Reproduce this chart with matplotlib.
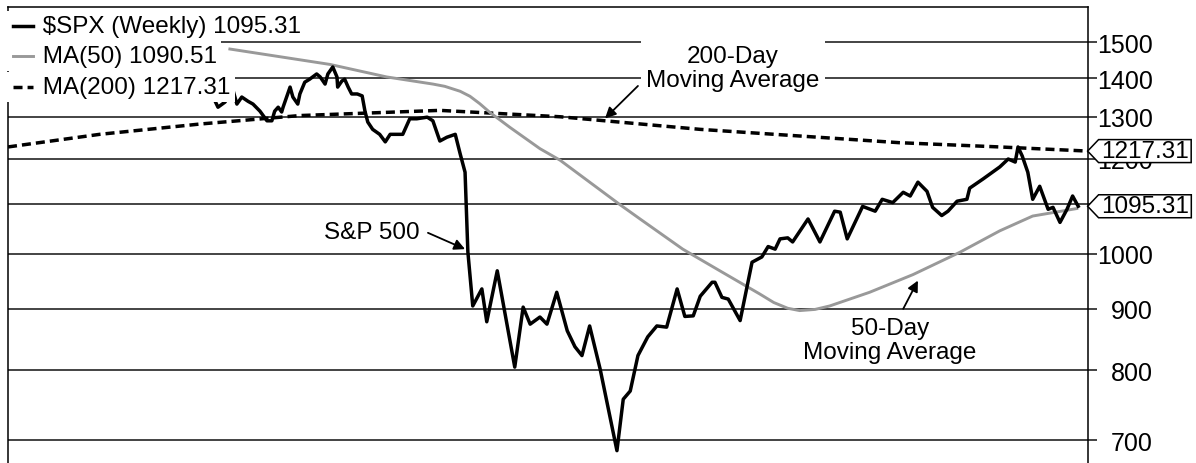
import matplotlib
matplotlib.use("Agg")
import matplotlib.pyplot as plt
from matplotlib.path import Path
from matplotlib.ticker import FixedLocator, FixedFormatter, NullLocator

plt.rcParams['font.family'] = ['Liberation Sans', 'DejaVu Sans']

# weekly S&P 500 closes (week 0 = left edge)
spx_week = [29.6, 30.0, 31.0, 32.1, 32.7, 33.4, 34.3, 35.0, 36.0, 37.0, 37.7, 38.1, 38.6, 39.1,
            39.3, 40.3, 40.7, 41.4, 41.7, 42.4, 43.1, 44.1, 44.6, 45.3, 45.7, 46.4, 47.0, 47.1,
            47.7, 48.1, 48.6, 49.1, 49.9, 50.6, 51.0, 51.4, 52.1, 53.1, 53.9, 54.6, 55.3, 56.4,
            57.4, 58.4, 59.9, 60.7, 61.7, 62.7, 63.9, 64.6, 65.3, 65.7, 66.4, 67.7, 68.4, 69.9,
            72.4, 73.6, 74.6, 76.0, 77.0, 78.4, 79.9, 81.0, 82.0, 83.1, 84.6, 87.0, 87.9, 88.9,
            90.0, 91.4, 92.7, 94.1, 95.6, 96.7, 97.9, 98.9, 100.6, 101.0, 102.0, 102.9, 104.6,
            106.3, 107.7, 108.6, 109.6, 110.3, 111.4, 112.1, 114.3, 116.0, 118.1, 118.9, 119.9,
            122.1, 123.9, 124.9, 126.4, 127.9, 128.9, 130.0, 131.3, 132.1, 133.4, 134.3, 135.6,
            137.0, 137.4, 139.3, 141.7, 142.9, 143.9, 144.3, 144.9, 145.7, 146.4, 147.4, 148.6,
            149.3, 150.3, 151.3, 152.1, 152.9]
spx_close = [1339, 1324, 1337, 1371, 1332, 1350, 1339, 1332, 1314, 1290, 1290, 1314, 1324, 1312,
             1324, 1376, 1350, 1332, 1358, 1389, 1397, 1411, 1403, 1384, 1411, 1430, 1403, 1376,
             1392, 1397, 1376, 1358, 1358, 1353, 1314, 1287, 1269, 1257, 1239, 1257, 1257, 1257,
             1295, 1295, 1299, 1290, 1241, 1250, 1257, 1211, 1169, 1004, 905, 935, 878, 968,
             805, 903, 874, 886, 874, 929, 863, 837, 823, 871, 802, 686, 757, 769,
             823, 853, 871, 869, 935, 887, 888, 922, 947, 947, 920, 917, 880,
             984, 994, 1014, 1009, 1029, 1031, 1023, 1069, 1023, 1085, 1083, 1029,
             1095, 1085, 1110, 1103, 1125, 1117, 1147, 1127, 1093, 1076, 1085, 1106,
             1110, 1134, 1154, 1181, 1199, 1192, 1227, 1206, 1169, 1110, 1138, 1089,
             1093, 1062, 1089, 1117, 1095.31]

ma50_week = [31.7, 46.0, 54.1, 60.7, 62.4, 64.6, 66.0, 67.4, 68.9, 70.3, 71.7, 76.0, 78.9,
             87.4, 90.3, 96.4, 101.7, 107.4, 109.4, 111.4, 113.1, 115.3, 117.4, 123.1, 129.3,
             136.0, 141.7, 146.4, 152.7]
ma50_val = [1480, 1437, 1403, 1384, 1378, 1365, 1352, 1333, 1310, 1292, 1274, 1223, 1196,
            1099, 1069, 1009, 968, 926, 911, 901, 897, 899, 905, 929, 961,
            1003, 1045, 1075, 1090.51]

ma200_week = [0, 13.1, 27.4, 41.7, 61.7, 78.9, 98.9, 113.1, 127.4, 141.7, 154.3]
ma200_val = [1227, 1257, 1282, 1303, 1316, 1300, 1269, 1253, 1237, 1227, 1217.31]

y_ticks = [700, 800, 900, 1000, 1100, 1200, 1300, 1400, 1500]

spx_last = 1095.31
ma50_last = 1090.51
ma200_last = 1217.31

DASH = (2.6, 1.45)


def tag_box(x0, y0, width, height, mutation_size):
    padx = 0.1 * mutation_size
    pady = 0.02 * mutation_size
    tip = 0.45 * mutation_size
    x1, y1 = x0 + width + padx, y0 + height + pady
    x0, y0 = x0 - padx, y0 - pady
    ym = (y0 + y1) / 2
    verts = [(x0 - tip, ym), (x0, y0), (x1, y0), (x1, y1), (x0, y1), (x0 - tip, ym)]
    return Path(verts, [Path.MOVETO] + [Path.LINETO] * 4 + [Path.CLOSEPOLY])


fig = plt.figure(figsize=(11.96, 4.64), dpi=100)
ax = fig.add_axes([8 / 1196, 0, 1080 / 1196, 456 / 464])

ax.plot(ma200_week, ma200_val, color='black', lw=2.5, dashes=DASH, zorder=3)
ax.plot(ma50_week, ma50_val, color='#999999', lw=2.1, zorder=3)
ax.plot(spx_week, spx_close, color='black', lw=2.5, zorder=4)

ax.set_yscale('log')
ax.set_ylim(670, 1604)
ax.set_xlim(0, 154.3)

ax.yaxis.set_major_locator(FixedLocator(y_ticks))
ax.yaxis.set_major_formatter(FixedFormatter([str(t) for t in y_ticks]))
ax.yaxis.set_minor_locator(NullLocator())
ax.yaxis.tick_right()
ax.tick_params(axis='y', length=6.5, width=1.1, pad=40.3, labelsize=18, color='#111111')
ax.tick_params(axis='x', bottom=False, labelbottom=False)
for lbl in ax.get_yticklabels():
    lbl.set_horizontalalignment('right')
ax.grid(axis='y', color='#111111', lw=1.1)
ax.set_axisbelow(True)

ax.spines['bottom'].set_visible(False)
for s in ['left', 'top', 'right']:
    ax.spines[s].set_linewidth(1.1)

# legend rows (white boxes hide the grid behind them)
rows = [(r"\$SPX (Weekly) %.2f" % spx_last, 'black', '-'),
        ("MA(50) %.2f" % ma50_last, '#999999', '-'),
        ("MA(200) %.2f" % ma200_last, 'black', '--')]
row_y = [0.958, 0.893, 0.825]
for (label, col, ls), yy in zip(rows, row_y):
    ax.text(0.0012, yy, "     " + label, transform=ax.transAxes, va='center', ha='left',
            fontsize=17.5, bbox=dict(fc='white', ec='none', pad=3), zorder=6)
    h, = ax.plot([0.0046, 0.023], [yy, yy], transform=ax.transAxes, color=col,
                 lw=2.5 if col == 'black' else 2.1, clip_on=False, zorder=7)
    if ls == '--':
        h.set_dashes(DASH)

arrow = dict(arrowstyle='-|>', color='black', lw=1.3, mutation_scale=16, shrinkA=0, shrinkB=0)

ax.text(103.6, 1427, "200-Day\nMoving Average", ha='center', va='center', fontsize=17.5,
        linespacing=1.15, bbox=dict(fc='white', ec='none', pad=4), zorder=5)
ax.annotate('', xy=(85.3, 1296), xytext=(90.0, 1379), arrowprops=arrow, zorder=5)

ax.text(52.0, 1042, "S&P 500", ha='center', va='center', fontsize=17.5, zorder=5)
ax.annotate('', xy=(65.3, 1009), xytext=(60.0, 1041), arrowprops=arrow, zorder=5)

ax.text(126.0, 848, "50-Day\nMoving Average", ha='center', va='center', fontsize=17.5,
        linespacing=1.15, zorder=5)
ax.annotate('', xy=(130.0, 950), xytext=(127.9, 900), arrowprops=arrow, zorder=5)

for val in [ma200_last, spx_last]:
    ax.annotate("%.2f" % val, xy=(1, val), xycoords=ax.get_yaxis_transform(),
                xytext=(13, 0), textcoords='offset pixels', ha='left', va='center',
                fontsize=17.5, annotation_clip=False, zorder=8,
                bbox=dict(boxstyle=tag_box, fc='white', ec='black', lw=1.1))

fig.savefig('out.png', dpi=100)
